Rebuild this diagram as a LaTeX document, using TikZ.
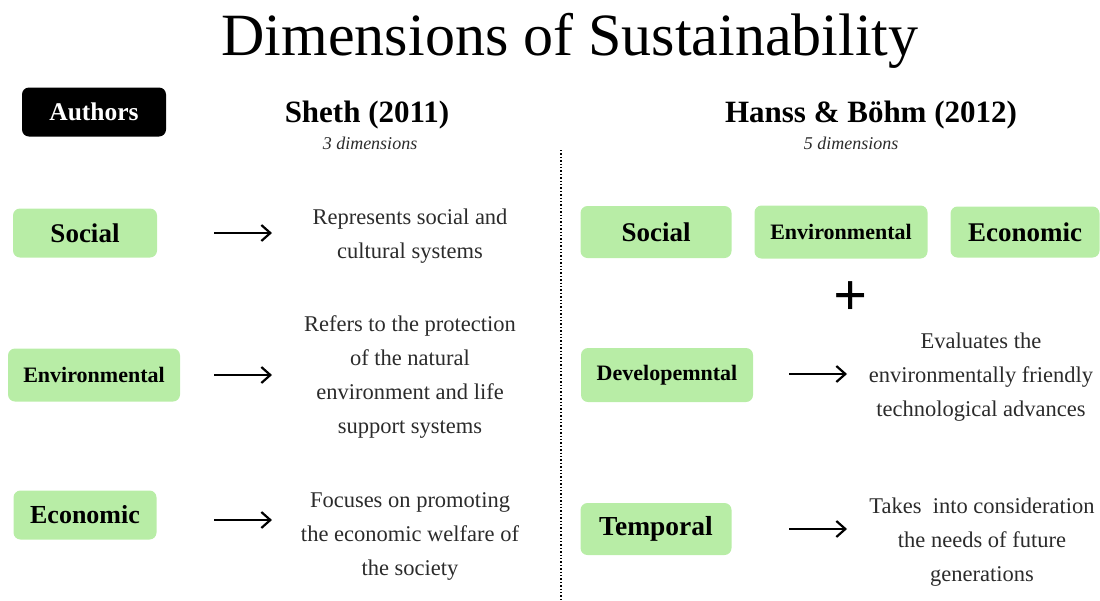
\documentclass[tikz,border=0pt]{standalone}
\usepackage{fontspec}
\setmainfont{Liberation Serif}
\usetikzlibrary{arrows.meta}
\definecolor{boxgreen}{HTML}{B8EDA6}
\definecolor{bodytext}{HTML}{2B2B2B}
\begin{document}
\begin{tikzpicture}[x=1pt,y=-1pt,
  dimbox/.style={fill=boxgreen,rounded corners=7pt,inner sep=0pt,text=black},
  desc/.style={align=center,text=bodytext,font=\fontsize{22.5}{34}\selectfont},
  arr/.style={line width=2.2pt,-{Straight Barb[length=9pt,width=16pt,line width=2.2pt]}},
  head/.style={font=\fontsize{31}{33}\selectfont\bfseries},
  sub/.style={font=\fontsize{18}{20}\selectfont\itshape,text=bodytext}]
\useasboundingbox (0,0) rectangle (1100,600);

% title
\node (title) at (570,41) {\fontsize{60}{66}\selectfont Dimensions of Sustainability};

% column headers
\node[fill=black,rounded corners=7pt,minimum width=144pt,minimum height=49pt,
      text=white,font=\fontsize{25.5}{27}\selectfont\bfseries] (authors) at (94,112) {Authors};
\node[head] (sheth) at (367,115) {Sheth (2011)};
\node[sub] (sheth3) at (370,143) {3 dimensions};
\node[head] (hanss) at (871,115) {Hanss \& Böhm (2012)};
\node[sub] (hanss5) at (851,143) {5 dimensions};

% separator
\coordinate (septop) at (561,150);
\coordinate (sepbot) at (561,600);
\draw[line width=1.4pt,dotted] (septop) -- (sepbot);

% Sheth (2011)
\node[dimbox,minimum width=144pt,minimum height=49pt,font=\fontsize{27}{29}\selectfont\bfseries] (lsoc) at (85,233) {Social};
\node[dimbox,minimum width=172pt,minimum height=53pt,font=\fontsize{22}{24}\selectfont\bfseries] (lenv) at (94,375) {Environmental};
\node[dimbox,minimum width=143pt,minimum height=49pt,font=\fontsize{26}{28}\selectfont\bfseries] (leco) at (85,515) {Economic};

\node[desc] (dsoc) at (410,236) {Represents social and\\cultural systems};
\node[desc] (denv) at (410,377) {Refers to the protection\\of the natural\\environment and life\\support systems};
\node[desc] (deco) at (410,536) {Focuses on promoting\\the economic welfare of\\the society};

\coordinate (a1s) at (214,233); \coordinate (a1e) at (272,233);
\coordinate (a2s) at (214,375); \coordinate (a2e) at (272,375);
\coordinate (a3s) at (214,520); \coordinate (a3e) at (272,520);
\draw[arr] (a1s) -- (a1e);
\draw[arr] (a2s) -- (a2e);
\draw[arr] (a3s) -- (a3e);

% Hanss & Böhm (2012)
\node[dimbox,minimum width=151pt,minimum height=52pt,font=\fontsize{27}{29}\selectfont\bfseries] (rsoc) at (656,232) {Social};
\node[dimbox,minimum width=173pt,minimum height=53pt,font=\fontsize{22}{24}\selectfont\bfseries] (renv) at (841,232) {Environmental};
\node[dimbox,minimum width=149pt,minimum height=51pt,font=\fontsize{27}{29}\selectfont\bfseries] (reco) at (1025,232) {Economic};

\node[font=\fontsize{60}{60}\selectfont\bfseries] (plus) at (851,299) {+};

\node[dimbox,minimum width=172pt,minimum height=54pt,font=\fontsize{22}{24}\selectfont\bfseries] (rdev) at (667,375) {Developemntal};
\node[dimbox,minimum width=151pt,minimum height=52pt,font=\fontsize{27.5}{29}\selectfont\bfseries] (rtem) at (656,529) {Temporal};

\node[desc] (ddev) at (981,377) {Evaluates the\\environmentally friendly\\technological advances};
\node[desc] (dtem) at (982,542) {Takes\ \ into consideration\\the needs of future\\generations};

\coordinate (a4s) at (789,374); \coordinate (a4e) at (847,374);
\coordinate (a5s) at (789,529); \coordinate (a5e) at (847,529);
\draw[arr] (a4s) -- (a4e);
\draw[arr] (a5s) -- (a5e);
\end{tikzpicture}
\end{document}
